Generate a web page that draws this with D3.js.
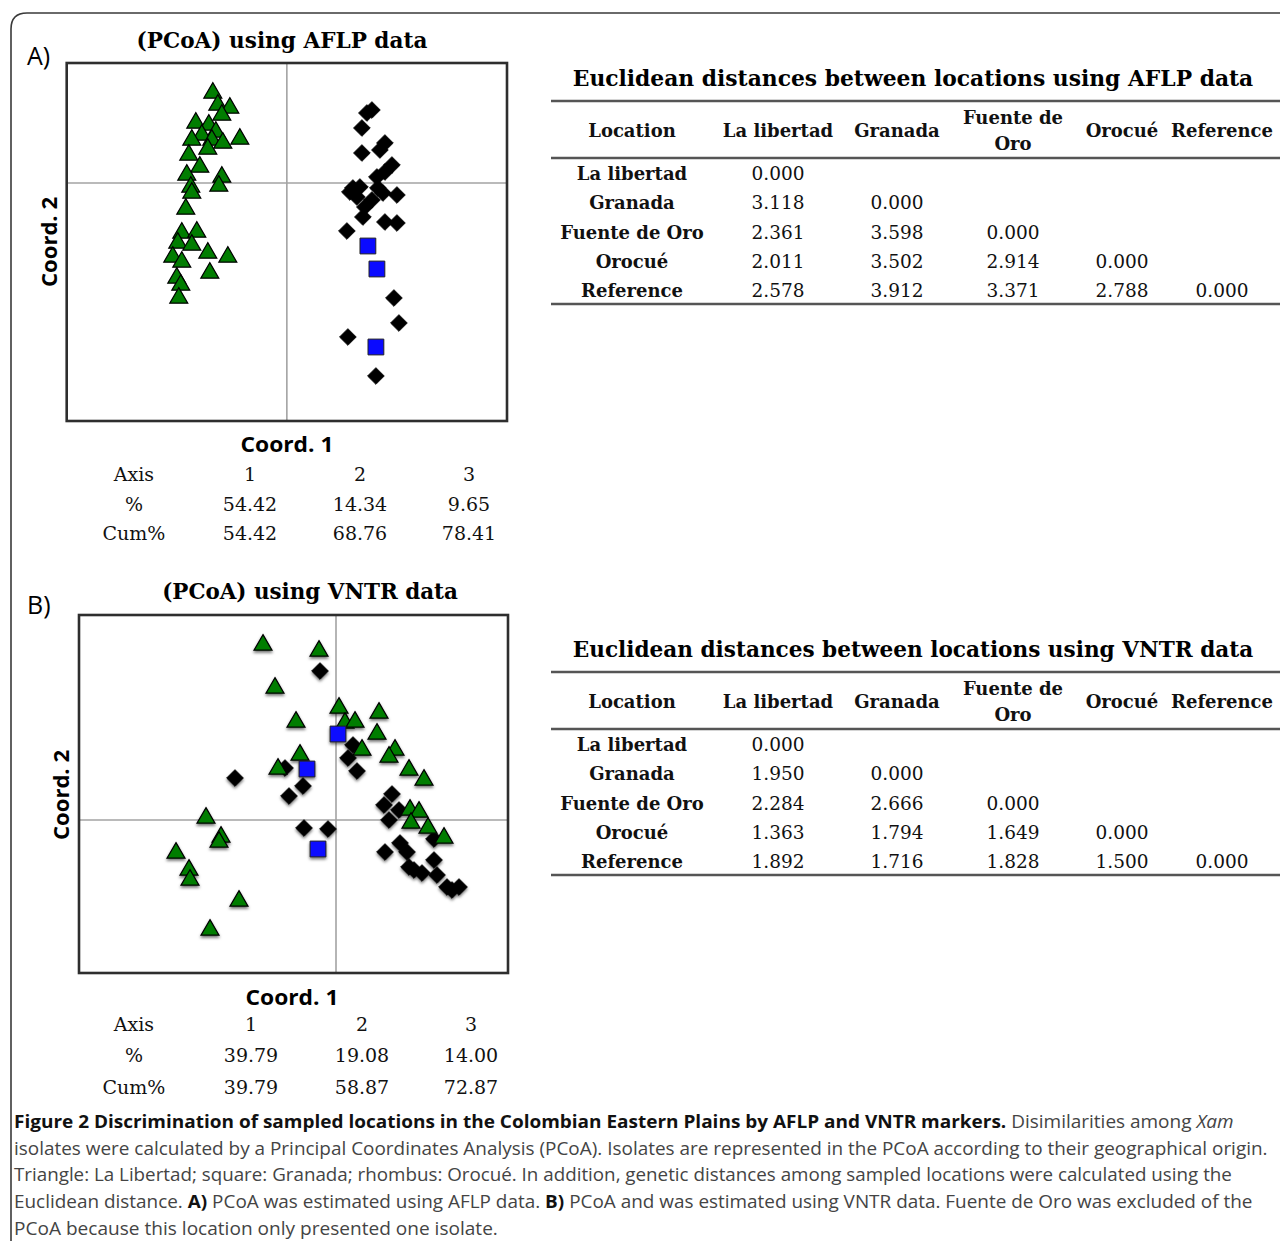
<!DOCTYPE html>
<html>
<head>
<meta charset="utf-8">
<script src="https://cdn.jsdelivr.net/npm/d3@7"></script>
<style>
  body { margin: 0; background: #fff; }
  svg { display: block; }
</style>
</head>
<body>
<svg id="fig" width="1280" height="1241"></svg>
<script>
// ---- data ----
// PCoA on AFLP, [coord1, coord2]
const aflpLaLibertad = [
  [-0.74, 0.90], [-0.69, 0.78], [-0.57, 0.75], [-0.65, 0.68], [-0.91, 0.60], [-0.78, 0.58],
  [-0.71, 0.51], [-0.85, 0.48], [-0.95, 0.43], [-0.75, 0.43], [-0.64, 0.40], [-0.47, 0.44],
  [-0.79, 0.34], [-0.98, 0.28], [-0.87, 0.16], [-1.00, 0.08], [-0.65, 0.06], [-0.68, -0.03],
  [-0.96, -0.04], [-0.95, -0.10], [-1.01, -0.26], [-1.05, -0.50], [-0.90, -0.49], [-1.09, -0.60],
  [-0.95, -0.62], [-0.79, -0.70], [-0.59, -0.74], [-1.14, -0.74], [-1.05, -0.79], [-0.77, -0.90],
  [-1.10, -0.95], [-1.06, -1.02], [-1.08, -1.15]
];
const aflpGranada = [[0.81, -0.63], [0.90, -0.86], [0.89, -1.64]];
const aflpOrocue = [
  [0.85, 0.73], [0.80, 0.70], [0.75, 0.55], [0.98, 0.40], [0.93, 0.33], [0.75, 0.30],
  [1.05, 0.18], [0.98, 0.11], [0.90, 0.06], [0.66, -0.05], [0.73, -0.04], [0.91, -0.05],
  [1.10, -0.12], [0.70, -0.14], [0.96, -0.10], [0.78, -0.24], [0.76, -0.34], [0.98, -0.39],
  [1.10, -0.40], [0.60, -0.48], [1.07, -1.15], [1.12, -1.40], [0.61, -1.54], [0.89, -1.93],
  [0.63, -0.09], [0.85, -0.17]
];

// PCoA on VNTR
const vntrLaLibertad = [
  [-0.73, 1.75], [-0.17, 1.69], [-0.61, 1.32], [-0.40, 0.98], [0.03, 1.12], [0.09, 0.97],
  [0.19, 0.98], [0.43, 1.07], [0.41, 0.86], [0.26, 0.70], [0.59, 0.70], [0.53, 0.63],
  [0.73, 0.50], [0.88, 0.40], [-0.36, 0.65], [-0.58, 0.51], [0.74, 0.10], [0.83, 0.08],
  [0.75, -0.03], [0.92, -0.08], [1.08, -0.18], [-1.30, 0.02], [-1.15, -0.17], [-1.17, -0.22],
  [-1.60, -0.33], [-1.47, -0.50], [-1.46, -0.60], [-0.97, -0.81], [-1.26, -1.10]
];
const vntrGranada = [[0.02, 0.86], [-0.29, 0.51], [-0.18, -0.29]];
const vntrOrocue = [
  [-0.16, 1.49], [0.17, 0.75], [0.12, 0.62], [0.21, 0.49], [-0.51, 0.52], [-1.01, 0.42],
  [-0.33, 0.34], [-0.47, 0.24], [-0.32, -0.08], [-0.08, -0.09], [0.56, 0.26], [0.48, 0.15],
  [0.63, 0.10], [0.53, 0.00], [0.49, -0.32], [0.64, -0.23], [0.71, -0.32], [0.78, -0.50],
  [0.98, -0.40], [0.86, -0.53], [1.01, -0.55], [1.11, -0.67], [1.23, -0.67], [0.98, -0.19],
  [0.73, -0.47], [1.16, -0.70]
];

const axisLabels = ["1", "2", "3"];
const aflpPct = ["54.42", "14.34", "9.65"];
const aflpCum = ["54.42", "68.76", "78.41"];
const vntrPct = ["39.79", "19.08", "14.00"];
const vntrCum = ["39.79", "58.87", "72.87"];

const locations = ["La libertad", "Granada", "Fuente de Oro", "Orocué", "Reference"];
const headers = ["Location", "La libertad", "Granada", "Fuente de|Oro", "Orocué", "Reference"];
const aflpDist = [
  ["0.000"],
  ["3.118", "0.000"],
  ["2.361", "3.598", "0.000"],
  ["2.011", "3.502", "2.914", "0.000"],
  ["2.578", "3.912", "3.371", "2.788", "0.000"]
];
const vntrDist = [
  ["0.000"],
  ["1.950", "0.000"],
  ["2.284", "2.666", "0.000"],
  ["1.363", "1.794", "1.649", "0.000"],
  ["1.892", "1.716", "1.828", "1.500", "0.000"]
];

const captionLines = [
  [["b", "Figure 2 Discrimination of sampled locations in the Colombian Eastern Plains by AFLP and VNTR markers."], ["r", " Disimilarities among "], ["i", "Xam"]],
  [["r", "isolates were calculated by a Principal Coordinates Analysis (PCoA). Isolates are represented in the PCoA according to their geographical origin."]],
  [["r", "Triangle: La Libertad; square: Granada; rhombus: Orocué. In addition, genetic distances among sampled locations were calculated using the"]],
  [["r", "Euclidean distance. "], ["b", "A)"], ["r", " PCoA was estimated using AFLP data. "], ["b", "B)"], ["r", " PCoA and was estimated using VNTR data. Fuente de Oro was excluded of the"]],
  [["r", "PCoA because this location only presented one isolate."]]
];

// ---- drawing ----
const SERIF = "'DejaVu Serif', serif";
const SANS = "'Open Sans', 'DejaVu Sans', sans-serif";
const svg = d3.select("#fig");

svg.append("rect").attr("width", 1280).attr("height", 1241).attr("fill", "#fff");

// outer frame, rounded top-left corner, runs off right and bottom
svg.append("path")
  .attr("d", "M11,1241 L11,29 Q11,13 27,13 L1280,13")
  .attr("fill", "none").attr("stroke", "#3a3a3a").attr("stroke-width", 1.6);

const defs = svg.append("defs");
defs.append("filter").attr("id", "shadow").attr("x", "-50%").attr("y", "-50%").attr("width", "200%").attr("height", "200%")
  .append("feDropShadow").attr("dx", 0).attr("dy", 2).attr("stdDeviation", 1.6)
  .attr("flood-color", "#000").attr("flood-opacity", 0.55);

function fitLen(sel, w) {
  sel.attr("textLength", w).attr("lengthAdjust", "spacingAndGlyphs");
}

// squeeze/stretch a text horizontally round its anchor x so it spans w px
function fitScale(sel, ax, w) {
  const bw = sel.node().getBBox().width;
  sel.attr("transform", `translate(${ax},0) scale(${w / bw},1) translate(${-ax},0)`);
}

function pcoa(opts) {
  const x = d3.scaleLinear().domain(opts.xDomain).range([opts.left, opts.right]);
  const y = d3.scaleLinear().domain(opts.yDomain).range([opts.bottom, opts.top]);
  const g = svg.append("g");

  // crosshair at the origin
  g.append("line").attr("x1", x(0)).attr("x2", x(0)).attr("y1", opts.top).attr("y2", opts.bottom)
    .attr("stroke", "#a3a3a3").attr("stroke-width", 1.6);
  g.append("line").attr("x1", opts.left).attr("x2", opts.right).attr("y1", y(0)).attr("y2", y(0))
    .attr("stroke", "#a3a3a3").attr("stroke-width", 1.6);

  const pts = g.append("g");
  if (opts.shadow) pts.attr("filter", "url(#shadow)");

  const diamond = d3.symbol().type(d3.symbolSquare).size(140);
  const tri = d3.symbol().type(d3.symbolTriangle).size(140);
  const sq = d3.symbol().type(d3.symbolSquare).size(250);

  pts.selectAll(".dia").data(opts.orocue).join("path").attr("class", "dia")
    .attr("d", diamond)
    .attr("transform", d => `translate(${x(d[0])},${y(d[1])}) rotate(45)`)
    .attr("fill", "#000").attr("stroke", "#000").attr("stroke-width", 0.8);
  pts.selectAll(".tri").data(opts.lib).join("path").attr("class", "tri")
    .attr("d", tri)
    .attr("transform", d => `translate(${x(d[0])},${y(d[1])})`)
    .attr("fill", "#017d01").attr("stroke", "#000").attr("stroke-width", 1.2);
  pts.selectAll(".sq").data(opts.granada).join("path").attr("class", "sq")
    .attr("d", sq)
    .attr("transform", d => `translate(${x(d[0])},${y(d[1])})`)
    .attr("fill", "#0a0aff").attr("stroke", "#222").attr("stroke-width", 1);

  g.append("rect").attr("x", opts.left).attr("y", opts.top)
    .attr("width", opts.right - opts.left).attr("height", opts.bottom - opts.top)
    .attr("fill", "none").attr("stroke", "#2e2e2e").attr("stroke-width", 2.6);

  // titles and axis names
  const tt = svg.append("text").attr("x", opts.titleX).attr("y", opts.titleY).attr("text-anchor", "middle")
    .attr("font-family", SERIF).attr("font-weight", "bold").attr("font-size", 23)
    .text(opts.title);
  fitScale(tt, opts.titleX, opts.titleW);
  svg.append("text").attr("x", 27).attr("y", opts.panelY)
    .attr("font-family", SANS).attr("font-size", 25).text(opts.panel);
  fitLen(svg.append("text").attr("x", opts.c1X).attr("y", opts.c1Y).attr("text-anchor", "middle")
    .attr("font-family", SANS).attr("font-weight", "bold").attr("font-size", 22).text("Coord. 1"), 93);
  fitLen(svg.append("text").attr("transform", `translate(${opts.c2X},${opts.c2Y}) rotate(-90)`)
    .attr("text-anchor", "middle")
    .attr("font-family", SANS).attr("font-weight", "bold").attr("font-size", 22).text("Coord. 2"), 90);

  // eigenvalue table beneath
  const cols = opts.cols;
  const rows = [["Axis", axisLabels], ["%", opts.pct], ["Cum%", opts.cum]];
  rows.forEach((r, i) => {
    const yy = opts.tabY[i];
    svg.append("text").attr("x", cols[0]).attr("y", yy).attr("text-anchor", "middle")
      .attr("font-family", SERIF).attr("font-size", 19).attr("fill", "#111").text(r[0]);
    r[1].forEach((v, j) => {
      svg.append("text").attr("x", cols[j + 1]).attr("y", yy).attr("text-anchor", "middle")
        .attr("font-family", SERIF).attr("font-size", 19).attr("fill", "#111").text(v);
    });
  });
}

pcoa({
  left: 66.7, right: 507, top: 63, bottom: 421,
  xDomain: [-2.2, 2.2], yDomain: [-2.38, 1.2],
  lib: aflpLaLibertad, granada: aflpGranada, orocue: aflpOrocue, shadow: false,
  title: "(PCoA) using AFLP data", titleX: 282, titleY: 48, titleW: 291,
  panel: "A)", panelY: 65,
  c1X: 287, c1Y: 452, c2X: 57, c2Y: 242,
  cols: [134, 250, 360, 469], tabY: [481, 511, 540],
  pct: aflpPct, cum: aflpCum
});

pcoa({
  left: 79, right: 508, top: 615, bottom: 973,
  xDomain: [-2.57, 1.72], yDomain: [-1.53, 2.05],
  lib: vntrLaLibertad, granada: vntrGranada, orocue: vntrOrocue, shadow: true,
  title: "(PCoA) using VNTR data", titleX: 310, titleY: 599, titleW: 296,
  panel: "B)", panelY: 614,
  c1X: 292, c1Y: 1005, c2X: 69, c2Y: 795,
  cols: [134, 251, 362, 471], tabY: [1031, 1062, 1094],
  pct: vntrPct, cum: vntrCum
});

// distance tables
function distTable(title, dist, dy) {
  const colX = [632, 778, 897, 1013, 1122, 1222];
  const rowY = d3.scalePoint().domain(locations).range([180, 297]);
  const g = svg.append("g").attr("transform", `translate(0,${dy})`);

  const tt = g.append("text").attr("x", 913).attr("y", 86).attr("text-anchor", "middle")
    .attr("font-family", SERIF).attr("font-weight", "bold").attr("font-size", 23).text(title);
  fitScale(tt, 913, 681);

  [101, 158, 304].forEach(yy => {
    g.append("line").attr("x1", 551).attr("x2", 1280).attr("y1", yy).attr("y2", yy)
      .attr("stroke", "#555").attr("stroke-width", 2.4);
  });

  headers.forEach((h, i) => {
    const parts = h.split("|");
    const t = g.append("text").attr("text-anchor", "middle")
      .attr("font-family", SERIF).attr("font-weight", "bold").attr("font-size", 18).attr("fill", "#111");
    if (parts.length === 1) {
      t.attr("x", colX[i]).attr("y", 137).text(h);
    } else {
      t.append("tspan").attr("x", colX[i]).attr("y", 124).text(parts[0]);
      t.append("tspan").attr("x", colX[i]).attr("y", 150).text(parts[1]);
    }
  });

  locations.forEach((loc, r) => {
    g.append("text").attr("x", colX[0]).attr("y", rowY(loc)).attr("text-anchor", "middle")
      .attr("font-family", SERIF).attr("font-weight", "bold").attr("font-size", 18).attr("fill", "#111")
      .text(loc);
    dist[r].forEach((v, c) => {
      g.append("text").attr("x", colX[c + 1]).attr("y", rowY(loc)).attr("text-anchor", "middle")
        .attr("font-family", SERIF).attr("font-size", 18.5).attr("fill", "#111").text(v);
    });
  });
}

distTable("Euclidean distances between locations using AFLP data", aflpDist, 0);
distTable("Euclidean distances between locations using VNTR data", vntrDist, 571);

// caption
const capW = [1220, 1255, 1219, 1239, 484];
const capY = [1128, 1155, 1181, 1208, 1235];
captionLines.forEach((line, i) => {
  const t = svg.append("text").attr("x", 14).attr("y", capY[i])
    .attr("font-family", SANS).attr("font-size", 17.5);
  line.forEach(([k, s]) => {
    t.append("tspan")
      .attr("font-weight", k === "b" ? "bold" : "normal")
      .attr("font-style", k === "i" ? "italic" : "normal")
      .attr("fill", k === "b" ? "#111" : "#444")
      .text(s);
  });
  fitScale(t, 14, capW[i]);
});
</script>
</body>
</html>
